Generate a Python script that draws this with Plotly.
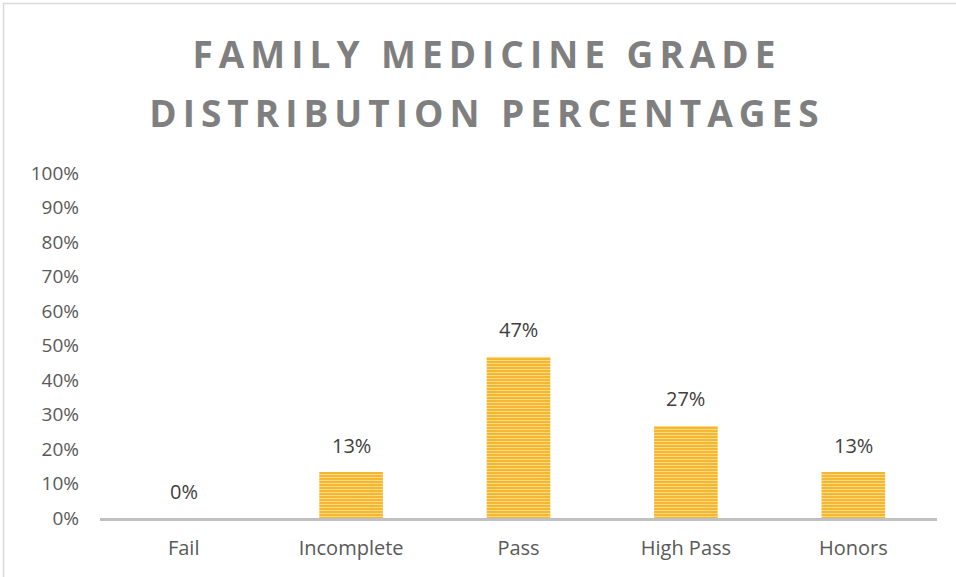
import plotly.graph_objects as go

categories = ["Fail", "Incomplete", "Pass", "High Pass", "Honors"]
percentages = [0.0, 0.1333, 0.4667, 0.2667, 0.1333]
label_texts = [f"{v*100:.0f}%" for v in percentages]
title_lines = ["FAMILY MEDICINE GRADE", "DISTRIBUTION PERCENTAGES"]

W, H = 956, 577
ML, MR, MT, MB = 100, 19, 173, 59

fig = go.Figure()
fig.add_trace(go.Bar(
    x=categories,
    y=percentages,
    marker=dict(
        color="#F6B52B",
        line=dict(width=0),
        pattern=dict(shape="-", bgcolor="#F5B22A", fgcolor="#FCDA80",
                     size=3, solidity=0.4, fillmode="replace"),
    ),
    hoverinfo="skip",
))

for c, v, t in zip(categories, percentages, label_texts):
    fig.add_annotation(x=c, y=v, text=t, showarrow=False, yshift=27,
                       font=dict(family="Open Sans", size=20, color="#404040"))

# line-height trick: outer font size sets line spacing, inner span sets glyph size
title_text = "<br>".join(
    f'<span style="font-size:37px;letter-spacing:6px">{line}</span>'
    for line in title_lines)

fig.update_layout(
    width=W, height=H,
    margin=dict(l=ML, r=MR, t=MT, b=MB),
    paper_bgcolor="white",
    plot_bgcolor="white",
    showlegend=False,
    bargap=0.62,
    title=dict(text=title_text, x=487 / W, xanchor="center",
               y=1 - 68 / H, yanchor="top",
               font=dict(family="Open Sans", size=45, color="#7F7F7F", weight="bold")),
    xaxis=dict(showline=True, linecolor="#C0C0C0", linewidth=2.5,
               showgrid=False, zeroline=False, ticks="",
               ticklabelstandoff=10,
               tickfont=dict(family="Open Sans", size=20, color="#595959")),
    yaxis=dict(range=[0, 1], dtick=0.1, tickformat=".0%",
               showgrid=False, zeroline=False, showline=False, ticks="",
               ticklabelstandoff=20,
               tickfont=dict(family="Open Sans", size=19, color="#595959")),
)

# chart border (Excel-style chart area outline)
pw = W - ML - MR
ph = H - MT - MB
base = H - MB  # pixel y of paper y=0
fig.add_shape(type="rect", xref="paper", yref="paper",
              x0=(3.5 - ML) / pw, x1=(W + 5 - ML) / pw,
              y0=(base - (H + 5)) / ph, y1=(base - 3.5) / ph,
              line=dict(color="#D9D9D9", width=1.5), layer="below")

fig.write_html("out.html", config={"displayModeBar": False},
               post_script="document.body.style.margin='0';document.body.style.overflow='hidden';")
